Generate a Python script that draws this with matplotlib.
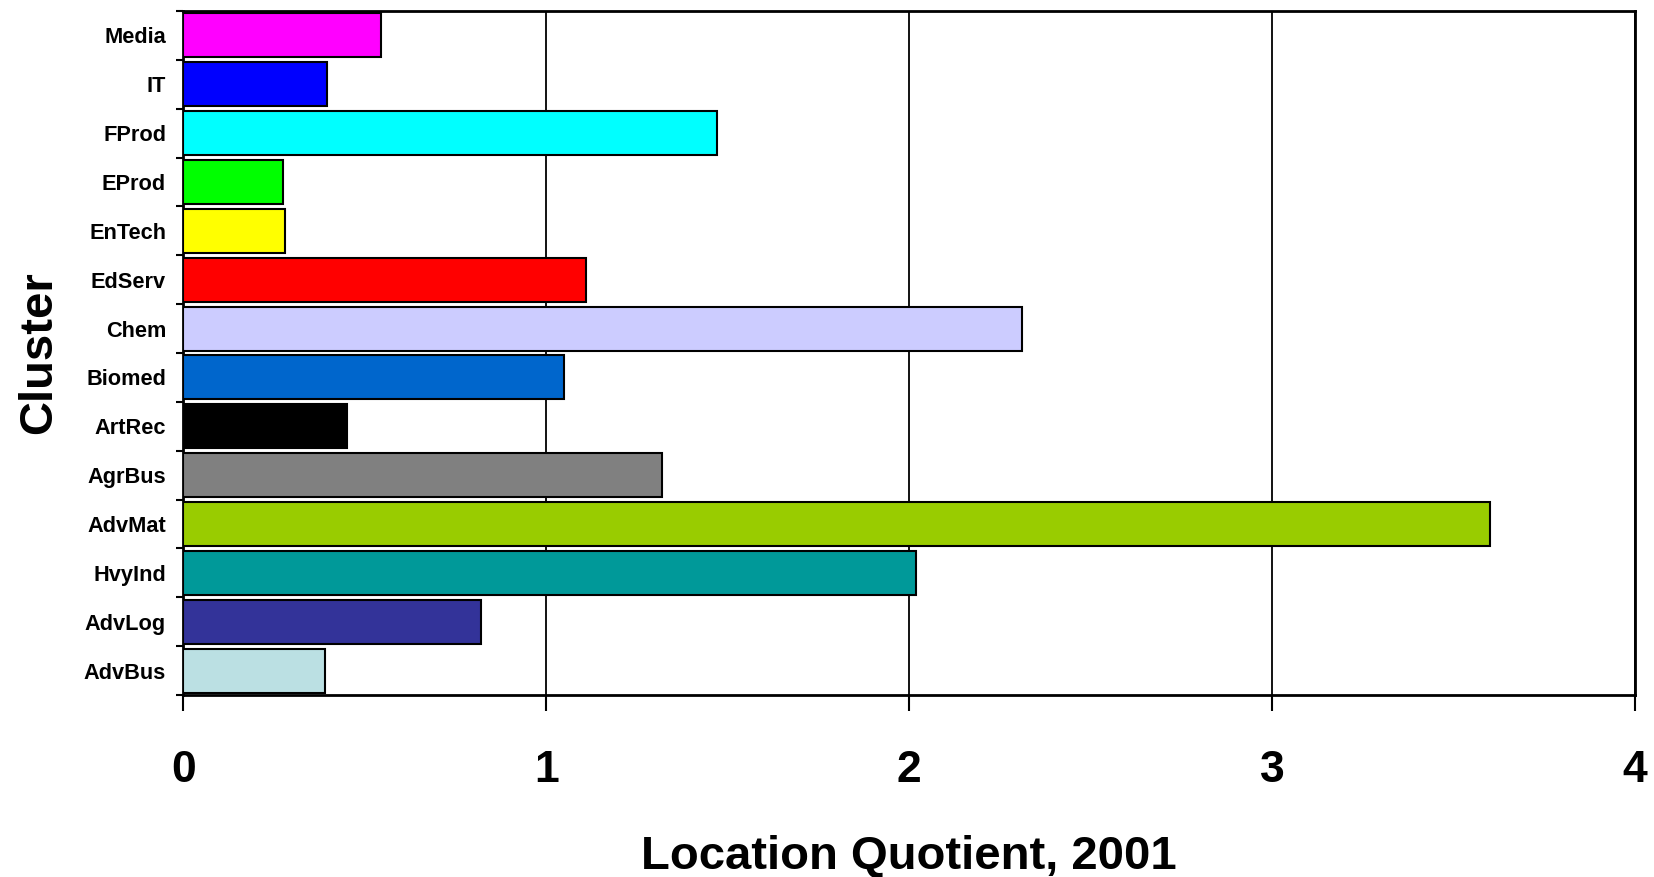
import numpy as np
import matplotlib.pyplot as plt

plt.rcParams['font.family'] = ['Liberation Sans', 'DejaVu Sans']
plt.rcParams['font.weight'] = 'bold'

# clusters from bottom to top
clusters = ['AdvBus', 'AdvLog', 'HvyInd', 'AdvMat', 'AgrBus', 'ArtRec', 'Biomed',
            'Chem', 'EdServ', 'EnTech', 'EProd', 'FProd', 'IT', 'Media']
lq_2001 = [0.39, 0.82, 2.02, 3.60, 1.32, 0.45, 1.05,
           2.31, 1.11, 0.28, 0.275, 1.47, 0.395, 0.545]
bar_colors = ['#BBE0E3', '#333399', '#009999', '#99CC00', '#808080', '#000000', '#0066CC',
              '#CCCCFF', '#FF0000', '#FFFF00', '#00FF00', '#00FFFF', '#0000FF', '#FF00FF']
x_ticks = [0, 1, 2, 3, 4]

fig = plt.figure(figsize=(16.54, 8.77), dpi=100)
ax = fig.add_axes([0.1109, 0.2075, 0.8776, 0.78])

y = np.arange(len(clusters))
ax.barh(y, lq_2001, height=0.9, color=bar_colors, edgecolor='black', linewidth=1.5, zorder=3)

ax.set_xlim(0, 4)
ax.set_ylim(-0.5, len(clusters) - 0.5)
ax.set_xticks(x_ticks)
ax.set_xticklabels([str(t) for t in x_ticks], fontsize=32, fontweight='bold')
ax.tick_params(axis='x', direction='out', length=11.5, width=1.5, pad=28)

ax.set_yticks(y)
ax.set_yticklabels(clusters, fontsize=15.7, fontweight='bold')
ax.set_yticks(np.arange(-0.5, len(clusters), 1), minor=True)
ax.tick_params(axis='y', which='major', length=0, pad=12.5)
ax.tick_params(axis='y', which='minor', direction='out', length=5, width=1.5)

ax.grid(axis='x', color='black', linewidth=1.3, zorder=0)
for s in ax.spines.values():
    s.set_linewidth(2)
    s.set_color('black')

ax.set_xlabel('Location Quotient, 2001', fontsize=34, fontweight='bold', labelpad=32)
ax.set_ylabel('Cluster', fontsize=34, fontweight='bold', labelpad=16)

fig.savefig('out.png', dpi=100)
